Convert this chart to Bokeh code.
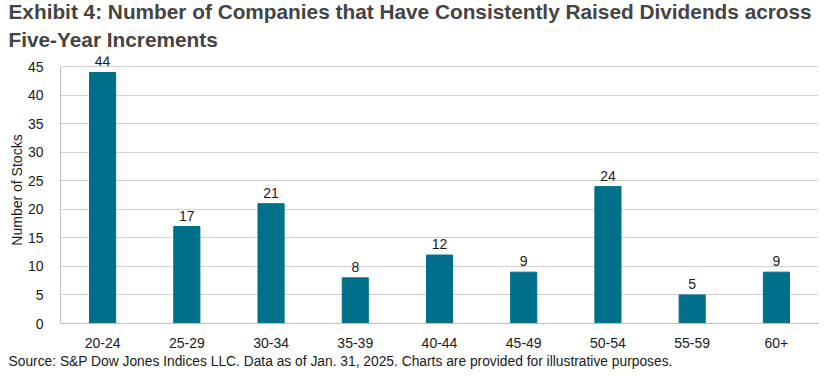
from bokeh.plotting import figure
from bokeh.models import ColumnDataSource, LabelSet, Title, FixedTicker, Range1d
from bokeh.core.properties import value
from bokeh.embed import file_html
from bokeh.resources import INLINE

categories = ["20-24", "25-29", "30-34", "35-39", "40-44", "45-49", "50-54", "55-59", "60+"]
counts = [44, 17, 21, 8, 12, 9, 24, 5, 9]
y_ticks = [0, 5, 10, 15, 20, 25, 30, 35, 40, 45]

FONT = "Liberation Sans"
src = ColumnDataSource(dict(cat=categories, val=counts, txt=[str(v) for v in counts]))

p = figure(width=828, height=378, x_range=categories, y_range=Range1d(0, 46.8),
           output_backend="svg", toolbar_location=None,
           min_border_left=60, min_border_right=10, min_border_bottom=55, min_border_top=56)

p.vbar(x="cat", top="val", width=0.31, source=src, color="#006F8A")

labels = LabelSet(x="cat", y="val", text="txt", source=src, text_align="center",
                  text_baseline="bottom", y_offset=6, text_font_size="14px",
                  text_color="#1a1a1a", text_font=value(FONT))
p.add_layout(labels)

t2 = Title(text="Five-Year Increments", text_font=FONT, text_font_size="20.8px",
           text_font_style="bold", align="left", offset=-52, standoff=12)
t1 = Title(text="Exhibit 4: Number of Companies that Have Consistently Raised Dividends across",
           text_font=FONT, text_font_size="20.8px", text_font_style="bold", align="left",
           offset=-52, standoff=-6)
p.add_layout(t2, "above")
p.add_layout(t1, "above")

src_t = Title(text="Source: S&P Dow Jones Indices LLC. Data as of Jan. 31, 2025. Charts are provided for illustrative purposes.",
              text_font=FONT, text_font_size="13.8px", text_font_style="normal", align="left",
              offset=-52, standoff=3, text_color="#1a1a1a")
p.add_layout(src_t, "below")

p.yaxis.ticker = FixedTicker(ticks=y_ticks)
p.yaxis.bounds = (0, 45)
p.yaxis.axis_label = "Number of Stocks"
p.yaxis.axis_label_text_font = FONT
p.yaxis.axis_label_text_font_size = "14px"
p.yaxis.axis_label_text_font_style = "normal"
p.yaxis.axis_label_standoff = 0
p.axis.major_label_text_font = FONT
p.axis.major_label_text_font_size = "14px"
p.axis.major_label_text_color = "#1a1a1a"
p.axis.axis_label_text_color = "#1a1a1a"
p.axis.major_tick_line_color = None
p.axis.minor_tick_line_color = None
p.axis.axis_line_color = "#BFBFBF"
p.yaxis.major_label_standoff = 11
p.xaxis.major_label_standoff = 8
p.xgrid.grid_line_color = None
p.ygrid.grid_line_color = "#D0D0D0"
p.outline_line_color = None
p.x_range.range_padding = 0.0

open("out.html", "w").write(file_html(p, INLINE))
